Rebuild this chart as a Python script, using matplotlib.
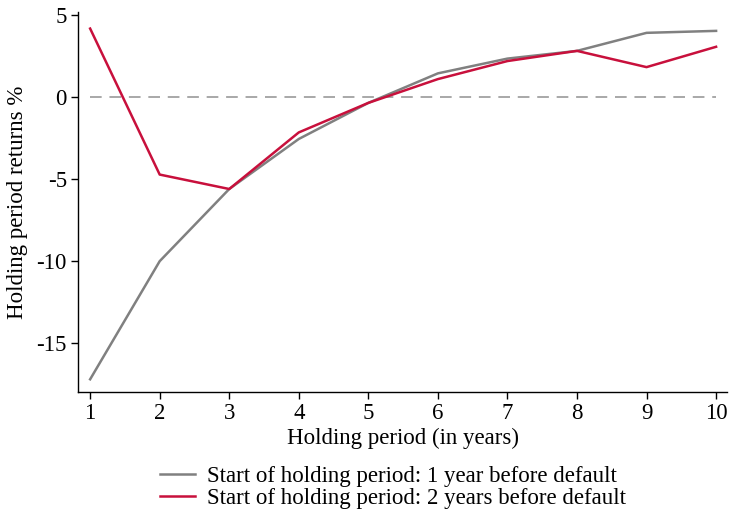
import matplotlib
matplotlib.use("Agg")
import matplotlib.pyplot as plt

years = [1, 2, 3, 4, 5, 6, 7, 8, 9, 10]
start_1y = [-17.2, -10.0, -5.6, -2.55, -0.35, 1.45, 2.35, 2.82, 3.92, 4.04]
start_2y = [4.18, -4.72, -5.6, -2.15, -0.35, 1.1, 2.2, 2.82, 1.83, 3.07]
yticks = [-15, -10, -5, 0, 5]
yticklabels = ["-15", "-10", "-5", "0", "5"]
label_1y = "Start of holding period: 1 year before default"
label_2y = "Start of holding period: 2 years before default"

FS = 16.5
plt.rcParams['font.family'] = ['Liberation Serif', 'DejaVu Serif']
plt.rcParams['font.size'] = FS

fig = plt.figure(figsize=(7.3, 5.15), dpi=100)
ax = fig.add_axes([0.107, 0.239, 0.889, 0.738])

gray = '#808080'
red = '#c8103c'
ax.axhline(0, xmin=(1 - 0.827) / (10.158 - 0.827), xmax=(10 - 0.827) / (10.158 - 0.827),
           color='#a8a8a8', lw=1.4, dashes=(6, 4))
l1, = ax.plot(years, start_1y, color=gray, lw=1.8, label=label_1y)
l2, = ax.plot(years, start_2y, color=red, lw=1.8, label=label_2y)

ax.set_xlim(0.827, 10.158)
ax.set_ylim(-17.97, 5.2)
ax.set_xticks(years)
ax.set_yticks(yticks)
ax.set_yticklabels(yticklabels)
for s in ['top', 'right']:
    ax.spines[s].set_visible(False)
ax.spines['left'].set_linewidth(1.0)
ax.spines['bottom'].set_linewidth(1.0)
ax.tick_params(direction='out', length=5, width=1.0, labelsize=FS, pad=3)
ax.set_xlabel("Holding period (in years)", fontsize=FS, labelpad=3)
ax.set_ylabel("Holding period returns %", fontsize=FS, labelpad=6)

fig.legend(handles=[l1, l2], loc='center left', bbox_to_anchor=(0.219, 0.0534),
           frameon=False, fontsize=FS, handlelength=1.55, handletextpad=0.5,
           labelspacing=0.0, borderaxespad=0, borderpad=0)

fig.savefig("out.png", dpi=100)
